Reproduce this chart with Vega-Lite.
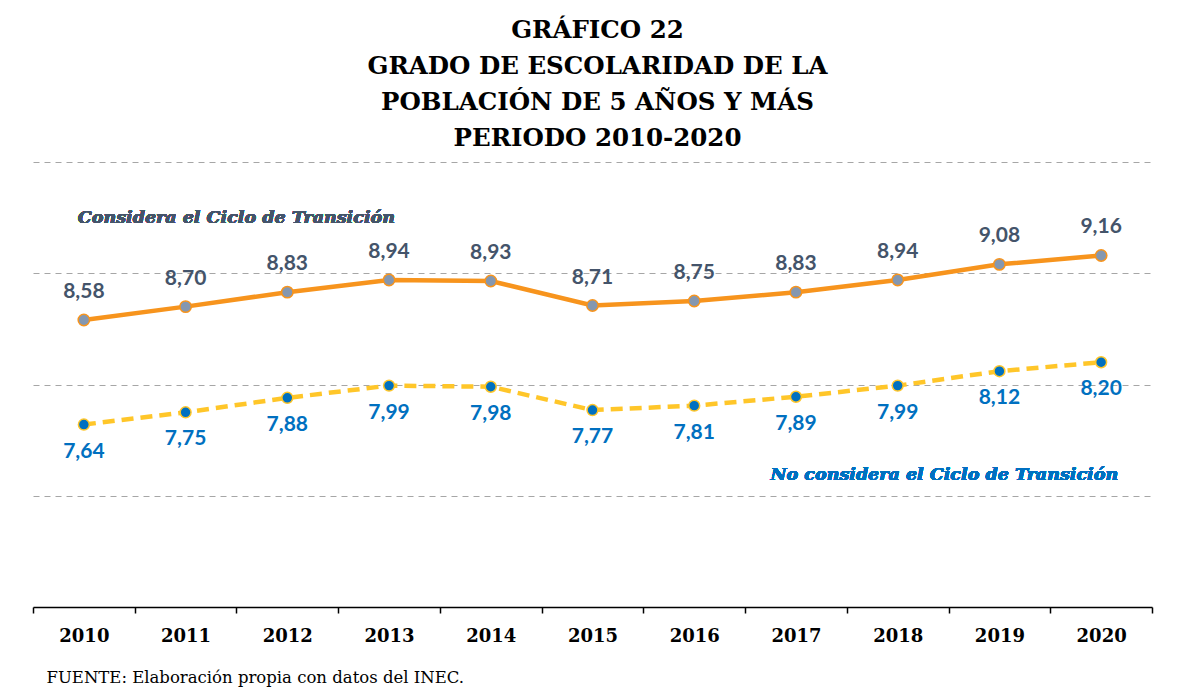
{
  "$schema": "https://vega.github.io/schema/vega-lite/v6.json",
  "autosize": "none",
  "width": 1119,
  "height": 445,
  "padding": {"left": 33, "top": 162, "right": 26, "bottom": 87},
  "background": "white",
  "config": {
    "view": {"stroke": null},
    "locale": {"number": {"decimal": ",", "thousands": ".", "grouping": [3], "currency": ["", ""]}}
  },
  "title": {
    "text": ["GRÁFICO 22", "GRADO DE ESCOLARIDAD DE LA", "POBLACIÓN DE 5 AÑOS Y MÁS", "PERIODO 2010-2020"],
    "font": "DejaVu Serif",
    "fontSize": 24.5,
    "fontWeight": "bold",
    "color": "#000000",
    "lineHeight": 36,
    "anchor": "middle",
    "dx": 5,
    "offset": 11
  },
  "data": {
    "values": [
      {"year": "2010", "serie": "Considera", "value": 8.58},
      {"year": "2011", "serie": "Considera", "value": 8.70},
      {"year": "2012", "serie": "Considera", "value": 8.83},
      {"year": "2013", "serie": "Considera", "value": 8.94},
      {"year": "2014", "serie": "Considera", "value": 8.93},
      {"year": "2015", "serie": "Considera", "value": 8.71},
      {"year": "2016", "serie": "Considera", "value": 8.75},
      {"year": "2017", "serie": "Considera", "value": 8.83},
      {"year": "2018", "serie": "Considera", "value": 8.94},
      {"year": "2019", "serie": "Considera", "value": 9.08},
      {"year": "2020", "serie": "Considera", "value": 9.16},
      {"year": "2010", "serie": "No considera", "value": 7.64},
      {"year": "2011", "serie": "No considera", "value": 7.75},
      {"year": "2012", "serie": "No considera", "value": 7.88},
      {"year": "2013", "serie": "No considera", "value": 7.99},
      {"year": "2014", "serie": "No considera", "value": 7.98},
      {"year": "2015", "serie": "No considera", "value": 7.77},
      {"year": "2016", "serie": "No considera", "value": 7.81},
      {"year": "2017", "serie": "No considera", "value": 7.89},
      {"year": "2018", "serie": "No considera", "value": 7.99},
      {"year": "2019", "serie": "No considera", "value": 8.12},
      {"year": "2020", "serie": "No considera", "value": 8.20}
    ]
  },
  "encoding": {
    "x": {
      "field": "year",
      "type": "ordinal",
      "bandPosition": 0.5,
      "scale": {"type": "band", "paddingInner": 0, "paddingOuter": 0},
      "axis": {
        "title": "FUENTE: Elaboración propia con datos del INEC.",
        "titleFont": "DejaVu Serif",
        "titleFontSize": 16.5,
        "titleFontWeight": "normal",
        "titleColor": "#000000",
        "titleAlign": "left",
        "titleAnchor": "start",
        "titleX": 13,
        "titleY": 75,
        "titleBaseline": "alphabetic",
        "labelAngle": 0,
        "labelFont": "DejaVu Serif",
        "labelFontSize": 18,
        "labelFontWeight": "bold",
        "labelColor": "#000000",
        "labelPadding": 14,
        "tickBand": "extent",
        "tickSize": 6,
        "tickColor": "#000000",
        "tickWidth": 1.5,
        "domainColor": "#000000",
        "domainWidth": 1.5,
        "grid": false
      }
    },
    "y": {
      "field": "value",
      "type": "quantitative",
      "scale": {"domain": [6, 10], "nice": false, "zero": false},
      "axis": {
        "title": null,
        "values": [7, 8, 9, 10],
        "labels": false,
        "ticks": false,
        "domain": false,
        "grid": true,
        "gridColor": "#A6A6A6",
        "gridWidth": 1,
        "gridDash": [6, 5]
      }
    }
  },
  "layer": [
    {
      "transform": [{"filter": "datum.serie === 'Considera'"}],
      "mark": {"type": "line", "color": "#F7941D", "strokeWidth": 4.5}
    },
    {
      "transform": [{"filter": "datum.serie === 'Considera'"}],
      "mark": {"type": "point", "filled": true, "fill": "#8497B0", "stroke": "#F7941D", "strokeWidth": 1.5, "size": 130, "opacity": 1}
    },
    {
      "transform": [{"filter": "datum.serie === 'Considera'"}],
      "mark": {"type": "text", "dy": -28, "font": "Lato", "fontSize": 21, "fontWeight": "bold", "color": "#44546A"},
      "encoding": {"text": {"field": "value", "type": "quantitative", "format": ".2f"}}
    },
    {
      "transform": [{"filter": "datum.serie === 'No considera'"}],
      "mark": {"type": "line", "color": "#FFC629", "strokeWidth": 4.5, "strokeDash": [12, 7]}
    },
    {
      "transform": [{"filter": "datum.serie === 'No considera'"}],
      "mark": {"type": "point", "filled": true, "fill": "#0070C0", "stroke": "#FFC629", "strokeWidth": 1.5, "size": 120, "opacity": 1}
    },
    {
      "transform": [{"filter": "datum.serie === 'No considera'"}],
      "mark": {"type": "text", "dy": 27, "font": "Lato", "fontSize": 21, "fontWeight": "bold", "color": "#0070C0"},
      "encoding": {"text": {"field": "value", "type": "quantitative", "format": ".2f"}}
    },
    {
      "mark": {"type": "text", "align": "left", "dx": -6, "font": "DejaVu Serif", "fontSize": 17.5, "fontWeight": "bold", "fontStyle": "italic", "color": "#44546A"},
      "encoding": {
        "x": {"datum": "2010", "type": "ordinal", "bandPosition": 0.5},
        "y": {"datum": 9.5},
        "text": {"value": "Considera el Ciclo de Transición"}
      }
    },
    {
      "mark": {"type": "text", "align": "right", "dx": 17, "font": "DejaVu Serif", "fontSize": 17.5, "fontWeight": "bold", "fontStyle": "italic", "color": "#0070C0"},
      "encoding": {
        "x": {"datum": "2020", "type": "ordinal", "bandPosition": 0.5},
        "y": {"datum": 7.19},
        "text": {"value": "No considera el Ciclo de Transición"}
      }
    }
  ]
}
